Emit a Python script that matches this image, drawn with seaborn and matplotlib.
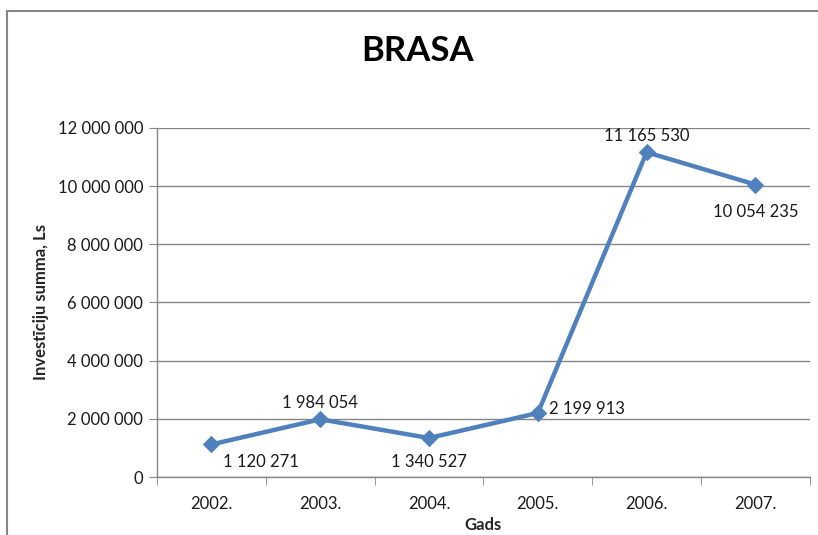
import numpy as np
import pandas as pd
import matplotlib.pyplot as plt
import seaborn as sns
from matplotlib.patches import Rectangle
from matplotlib.ticker import FuncFormatter

years = ['2002.', '2003.', '2004.', '2005.', '2006.', '2007.']
investments = [1120271, 1984054, 1340527, 2199913, 11165530, 10054235]
label_text = ['1 120 271', '1 984 054', '1 340 527', '2 199 913', '11 165 530', '10 054 235']

df = pd.DataFrame({'pos': range(len(years)), 'value': investments})

sns.set_style('white')
plt.rcParams['font.family'] = ['Lato', 'DejaVu Sans']

fig = plt.figure(figsize=(8.18, 5.35), dpi=100)
ax = fig.add_axes([0.192, 0.1084, 0.798, 0.6524])

sns.lineplot(data=df, x='pos', y='value', ax=ax, color='#4F81BD', linewidth=3.2,
             marker='D', markersize=8, markeredgecolor='#4F81BD')

# data labels
offsets = [(8, -13), (0, 12), (0, -17), (8, 3), (0, 12), (0, -20)]
for i, (v, t) in enumerate(zip(investments, label_text)):
    dx, dy = offsets[i]
    ha = 'left' if dx > 0 else 'center'
    ax.annotate(t, (i, v), xytext=(dx, dy), textcoords='offset points',
                ha=ha, va='center', fontsize=12, color='#1a1a1a')

ax.set_xlim(-0.5, len(years) - 0.5)
ax.set_ylim(0, 12000000)
ax.set_yticks(np.arange(0, 12000001, 2000000))
ax.yaxis.set_major_formatter(FuncFormatter(lambda v, p: f'{int(v):,}'.replace(',', ' ')))
ax.set_xticks(range(len(years)))
ax.set_xticklabels(years)
ax.set_xticks(np.arange(-0.5, len(years), 1), minor=True)
ax.tick_params(axis='x', which='major', length=0, pad=14, labelsize=12, labelcolor='#1a1a1a')
ax.tick_params(axis='x', which='minor', length=6, color='#868686', direction='out')
ax.tick_params(axis='y', length=6, color='#868686', direction='out', labelsize=12,
               labelcolor='#1a1a1a', pad=4)
ax.tick_params(axis='both', which='both', bottom=True, left=True)

ax.yaxis.grid(True, color='#868686', linewidth=1)
ax.xaxis.grid(False)
for side in ['top', 'right']:
    ax.spines[side].set_visible(False)
for side in ['left', 'bottom']:
    ax.spines[side].set_color('#868686')
    ax.spines[side].set_linewidth(1)

ax.set_xlabel('Gads', fontsize=12, fontweight='bold', labelpad=3)
ax.set_ylabel('Investīciju summa, Ls', fontsize=12, fontweight='bold', labelpad=6)
fig.text(0.511, 0.905, 'BRASA', ha='center', va='center', fontsize=25,
         fontweight='bold', color='black')

# chart area border
fig.patches.append(Rectangle((7 / 818, -0.1), 1.2, 1 - 11 / 535 + 0.1, transform=fig.transFigure,
                             fill=False, edgecolor='#868686', linewidth=1.5))

fig.savefig('out.png', dpi=100)
